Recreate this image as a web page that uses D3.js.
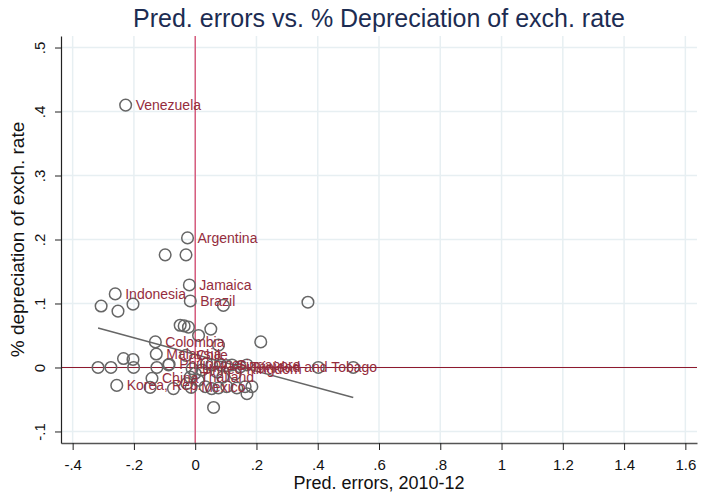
<!DOCTYPE html>
<html>
<head>
<meta charset="utf-8">
<script src="https://cdn.jsdelivr.net/npm/d3@7"></script>
<style>
  html, body { margin: 0; padding: 0; background: #fff; }
  svg { display: block; font-family: "Liberation Sans", Arial, sans-serif; }
</style>
</head>
<body>
<div id="chart"></div>
<script>
// labelled countries: [name, pred. error, depreciation]
const labelled = [
  ['Venezuela', -0.227, 0.410],
  ['Argentina', -0.025, 0.2025],
  ['Jamaica', -0.019, 0.129],
  ['Brazil', -0.016, 0.104],
  ['Indonesia', -0.261, 0.115],
  ['Colombia', -0.130, 0.040],
  ['Malaysia', -0.127, 0.021],
  ['Chile', -0.030, 0.019],
  ['Philippines', -0.085, 0.005],
  ['United Kingdom', -0.010, -0.002],
  ['Singapore', 0.103, 0.003],
  ['Trinidad and Tobago', 0.147, 0.001],
  ['Thailand', -0.016, -0.015],
  ['China', -0.141, -0.017],
  ['Korea, Rep.', -0.256, -0.028],
  ['Mexico', -0.013, -0.031]
];

// the rest of the sample, no label
const unlabelledX = [
  -0.098, -0.030, 0.092, -0.307, -0.252, -0.203, 0.368, -0.036, -0.022, 0.051,
  0.011, 0.214, 0.076, -0.234, -0.203, -0.317, -0.275, -0.201, -0.125, -0.147,
  -0.071, 0.060, 0.402, 0.516, -0.027, 0.000, 0.022, 0.038, 0.054, 0.071,
  0.082, 0.120, 0.169, 0.033, 0.054, 0.076, 0.103, 0.136, 0.163, 0.185,
  0.169, -0.049, -0.087, 0.010, 0.090, 0.130
];
const unlabelledY = [
  0.176, 0.176, 0.097, 0.096, 0.088, 0.099, 0.102, 0.065, 0.063, 0.060,
  0.050, 0.040, 0.035, 0.014, 0.0125, 0.000, 0.000, 0.000, 0.000, -0.031,
  -0.033, -0.0625, 0.000, 0.000, -0.025, -0.009, -0.004, 0.006, 0.004, -0.007,
  0.004, 0.004, 0.004, -0.030, -0.033, -0.032, -0.030, -0.032, -0.030, -0.030,
  -0.041, 0.066, 0.004, -0.020, -0.015, -0.010
];

// linear fit
const fitIntercept = 0.0204;
const fitSlope = -0.1305;

const xTicks = [-0.4, -0.2, 0, 0.2, 0.4, 0.6, 0.8, 1, 1.2, 1.4, 1.6];
const yTicks = [-0.1, 0, 0.1, 0.2, 0.3, 0.4, 0.5];

const width = 706;
const height = 495;
const plot = { left: 61, right: 697, top: 36, bottom: 443 };

const labelColor = '#952d3d';
const markerColor = '#666666';
const gridColor = '#e7eff2';

// Stata style tick labels: .5, -.1, 1.2
function stataFmt(v) {
  const s = String(+v.toFixed(2));
  return s.replace(/^(-?)0\./, '$1.');
}

const points = labelled.map(d => ({ name: d[0], x: d[1], y: d[2] }))
  .concat(unlabelledX.map((x, i) => ({ name: '', x: x, y: unlabelledY[i] })));

const x = d3.scaleLinear().domain([-0.438, 1.638]).range([plot.left, plot.right]);
const y = d3.scaleLinear().domain([-0.118, 0.518]).range([plot.bottom, plot.top]);

const svg = d3.select('#chart').append('svg')
  .attr('width', width)
  .attr('height', height);

// grid
svg.append('g')
  .selectAll('line')
  .data(xTicks)
  .enter()
  .append('line')
  .attr('x1', d => x(d)).attr('x2', d => x(d))
  .attr('y1', plot.top).attr('y2', plot.bottom)
  .attr('stroke', gridColor).attr('stroke-width', 1.5);

svg.append('g')
  .selectAll('line')
  .data(yTicks)
  .enter()
  .append('line')
  .attr('x1', plot.left).attr('x2', plot.right)
  .attr('y1', d => y(d)).attr('y2', d => y(d))
  .attr('stroke', gridColor).attr('stroke-width', 1.5);

// reference lines at zero
svg.append('line')
  .attr('x1', x(0)).attr('x2', x(0))
  .attr('y1', plot.top).attr('y2', plot.bottom)
  .attr('stroke', '#d22a55').attr('stroke-width', 1.1);

svg.append('line')
  .attr('x1', plot.left).attr('x2', plot.right)
  .attr('y1', y(0)).attr('y2', y(0))
  .attr('stroke', '#8e1a2e').attr('stroke-width', 1.1);

// axes
const xAxis = svg.append('g')
  .attr('transform', `translate(0,${plot.bottom})`)
  .call(d3.axisBottom(x).tickValues(xTicks).tickFormat(stataFmt).tickSize(7).tickSizeOuter(0));

xAxis.select('.domain').attr('stroke', '#555').attr('stroke-width', 1.6);
xAxis.selectAll('.tick line').attr('stroke', '#222');
xAxis.selectAll('.tick text')
  .attr('y', 27)
  .attr('dy', 0)
  .style('font-size', '15px')
  .attr('fill', '#111');

const yAxis = svg.append('g')
  .attr('transform', `translate(${plot.left},0)`)
  .call(d3.axisLeft(y).tickValues(yTicks).tickFormat(stataFmt).tickSize(6).tickSizeOuter(0));

yAxis.select('.domain').attr('stroke', '#222').attr('stroke-width', 1.2);
yAxis.selectAll('.tick line').attr('stroke', '#222');
yAxis.selectAll('.tick text')
  .attr('x', 0).attr('dy', 0)
  .attr('text-anchor', 'middle')
  .attr('transform', 'translate(-16.5,0) rotate(-90)')
  .style('font-size', '15px')
  .attr('fill', '#111');

// fitted line over the range of the data
const xExtent = d3.extent(points, d => d.x);
svg.append('path')
  .datum(xExtent.map(v => [v, fitIntercept + fitSlope * v]))
  .attr('d', d3.line().x(d => x(d[0])).y(d => y(d[1])))
  .attr('fill', 'none')
  .attr('stroke', markerColor)
  .attr('stroke-width', 1.6);

// markers
svg.append('g')
  .selectAll('circle')
  .data(points)
  .enter()
  .append('circle')
  .attr('cx', d => x(d.x))
  .attr('cy', d => y(d.y))
  .attr('r', 5.8)
  .attr('fill', 'none')
  .attr('stroke', markerColor)
  .attr('stroke-width', 1.5);

// country labels at 3 o'clock
svg.append('g')
  .selectAll('text')
  .data(points.filter(d => d.name))
  .enter()
  .append('text')
  .attr('x', d => x(d.x) + 10)
  .attr('y', d => y(d.y))
  .attr('dy', '0.35em')
  .style('font-size', '14px')
  .attr('fill', labelColor)
  .text(d => d.name);

// titles
svg.append('text')
  .attr('x', (plot.left + plot.right) / 2)
  .attr('y', 27)
  .attr('text-anchor', 'middle')
  .style('font-size', '25px')
  .attr('fill', '#1c2c52')
  .text('Pred. errors vs. % Depreciation of exch. rate');

svg.append('text')
  .attr('x', (plot.left + plot.right) / 2)
  .attr('y', 489)
  .attr('text-anchor', 'middle')
  .style('font-size', '18px')
  .attr('fill', '#111')
  .text('Pred. errors, 2010-12');

svg.append('text')
  .attr('transform', `translate(24,${(plot.top + plot.bottom) / 2}) rotate(-90)`)
  .attr('text-anchor', 'middle')
  .style('font-size', '19px')
  .attr('fill', '#111')
  .text('% depreciation of exch. rate');
</script>
</body>
</html>
